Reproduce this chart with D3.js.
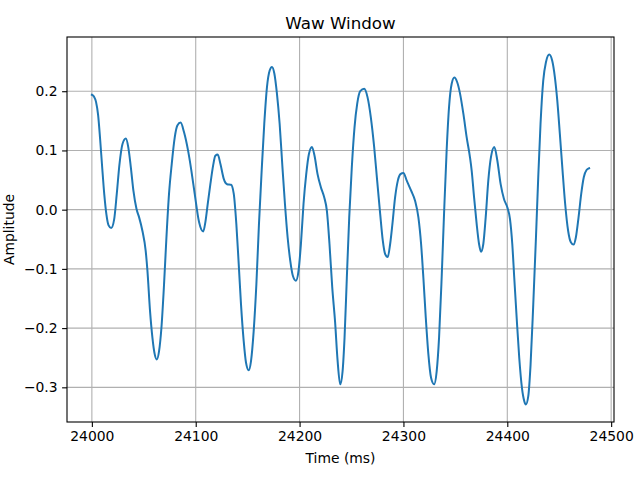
<!DOCTYPE html>
<html>
<head>
<meta charset="utf-8">
<script src="https://cdn.jsdelivr.net/npm/d3@7"></script>
<style>
  body { margin: 0; background: #fff; }
  svg { font-family: "DejaVu Sans", sans-serif; }
</style>
</head>
<body>
<div id="chart"></div>
<script>
// time (ms) and amplitude
var timeMs = [
  24000, 24002, 24004, 24006, 24008, 24010, 24012, 24014, 24016, 24018.6, 24021.5, 24024,
  24026.6, 24029.5, 24032.7, 24035, 24037.5, 24040, 24043, 24045.5, 24048.7, 24051.8,
  24053.5, 24056, 24058.3, 24060.5, 24062.5, 24064.7, 24067, 24069.5, 24071.8, 24074.3,
  24076.9, 24079.8, 24082.3, 24085.5, 24088.7, 24092.6, 24095.8, 24099, 24103.2, 24107.2,
  24109.3, 24111.6, 24114.1, 24116.7, 24118.9, 24121.2, 24123.8, 24127, 24130.2, 24134,
  24136.6, 24139.1, 24141.4, 24143.6, 24146.2, 24148.4, 24151, 24153.2, 24155.8, 24158.4,
  24160.9, 24163.5, 24166, 24168.6, 24171.2, 24173.4, 24175.7, 24178.2, 24180.8, 24183.3,
  24185.9, 24188.5, 24191, 24193.6, 24196.5, 24199, 24201.3, 24203.8, 24206.4, 24209,
  24211.9, 24214.4, 24217.3, 24220.5, 24223.7, 24226.3, 24228.8, 24231.4, 24234.2, 24236.6,
  24239.1, 24241.4, 24243.3, 24245.5, 24247.8, 24250.3, 24252.9, 24255.5, 24258.4, 24262.2,
  24265.4, 24268.6, 24271.8, 24274.7, 24277.6, 24280.1, 24282.4, 24284.9, 24287.2, 24289.4,
  24292, 24294.6, 24297.1, 24300, 24303.2, 24307.4, 24311.2, 24314.4, 24317, 24319.2,
  24321.5, 24324, 24326.6, 24329.5, 24332, 24334.3, 24336.8, 24339.1, 24341.6, 24343.9,
  24346.5, 24349, 24351.6, 24354.5, 24357.7, 24360.9, 24364.1, 24365.7, 24368, 24370.5,
  24372.8, 24374.7, 24376.9, 24379.2, 24381.7, 24384.3, 24387.5, 24390.4, 24393.6, 24396.8,
  24400, 24402.6, 24404.8, 24406.7, 24409, 24411.5, 24414.1, 24416.3, 24417.9, 24420.2,
  24422.4, 24425, 24427.6, 24429.8, 24432, 24434.6, 24437.2, 24440.4, 24443.2, 24445.8,
  24448.1, 24450.6, 24453.2, 24455.7, 24458.6, 24461.2, 24463.8, 24466, 24468.6, 24471.2,
  24473.7, 24476.3, 24478.8
];
var amplitude = [
  0.194, 0.191, 0.182, 0.160, 0.118, 0.070, 0.025, -0.008, -0.026, -0.031, -0.016, 0.027,
  0.077, 0.111, 0.120, 0.106, 0.072, 0.032, 0.001, -0.013, -0.036, -0.069,
  -0.103, -0.171, -0.216, -0.244, -0.253, -0.239, -0.199, -0.126, -0.047, 0.027,
  0.077, 0.122, 0.142, 0.147, 0.131, 0.100, 0.066, 0.027, -0.021, -0.037,
  -0.021, 0.010, 0.043, 0.074, 0.091, 0.093, 0.077, 0.052, 0.043, 0.042,
  0.027, -0.024, -0.092, -0.160, -0.222, -0.258, -0.271, -0.256, -0.205, -0.126,
  -0.024, 0.066, 0.145, 0.207, 0.235, 0.241, 0.230, 0.196, 0.145, 0.077,
  0.010, -0.047, -0.086, -0.112, -0.120, -0.103, -0.058, 0.010, 0.060, 0.094,
  0.106, 0.091, 0.060, 0.038, 0.021, -0.002, -0.058, -0.130, -0.190, -0.255,
  -0.295, -0.273, -0.216, -0.115, -0.013, 0.072, 0.139, 0.179, 0.200, 0.204,
  0.190, 0.156, 0.106, 0.049, -0.007, -0.052, -0.075, -0.080, -0.058, -0.024,
  0.021, 0.049, 0.060, 0.062, 0.049, 0.032, 0.015, -0.013, -0.058, -0.115,
  -0.182, -0.244, -0.284, -0.295, -0.273, -0.216, -0.115, -0.007, 0.100, 0.173,
  0.213, 0.223, 0.216, 0.196, 0.162, 0.122, 0.088, 0.066, 0.021, -0.024,
  -0.058, -0.071, -0.058, -0.013, 0.049, 0.089, 0.106, 0.083, 0.043, 0.018,
  0.004, -0.016, -0.058, -0.115, -0.182, -0.250, -0.301, -0.323, -0.329, -0.315,
  -0.262, -0.160, -0.047, 0.055, 0.145, 0.218, 0.249, 0.262, 0.252, 0.224,
  0.185, 0.128, 0.066, 0.010, -0.036, -0.055, -0.059, -0.047, -0.013, 0.027,
  0.055, 0.067, 0.070
];
var xTicks = [24000, 24100, 24200, 24300, 24400, 24500];
var yTicks = [-0.3, -0.2, -0.1, 0.0, 0.1, 0.2];

var W = 640, H = 480;
var margin = { top: 37, right: 26, bottom: 58, left: 67 };
var iw = W - margin.left - margin.right;
var ih = H - margin.top - margin.bottom;

var points = timeMs.map(function(t, i) { return { t: t, a: amplitude[i] }; });

var xExt = d3.extent(timeMs), yExt = d3.extent(amplitude);
var xPad = (xExt[1] - xExt[0]) * 0.05, yPad = (yExt[1] - yExt[0]) * 0.05;

var x = d3.scaleLinear().domain([xExt[0] - xPad, xExt[1] + xPad]).range([0, iw]);
var y = d3.scaleLinear().domain([yExt[0] - yPad, yExt[1] + yPad]).range([ih, 0]);

var svg = d3.select('#chart').append('svg')
  .attr('width', W).attr('height', H);

var g = svg.append('g')
  .attr('transform', 'translate(' + margin.left + ',' + margin.top + ')');

// grid
g.append('g').selectAll('line')
  .data(xTicks).enter().append('line')
  .attr('x1', function(d) { return x(d); }).attr('x2', function(d) { return x(d); })
  .attr('y1', 0).attr('y2', ih)
  .attr('stroke', '#b0b0b0').attr('stroke-width', 1.1);
g.append('g').selectAll('line')
  .data(yTicks).enter().append('line')
  .attr('y1', function(d) { return y(d); }).attr('y2', function(d) { return y(d); })
  .attr('x1', 0).attr('x2', iw)
  .attr('stroke', '#b0b0b0').attr('stroke-width', 1.1);

// the wave
var line = d3.line()
  .x(function(d) { return x(d.t); })
  .y(function(d) { return y(d.a); })
  .curve(d3.curveMonotoneX);

g.append('path')
  .datum(points)
  .attr('d', line)
  .attr('fill', 'none')
  .attr('stroke', '#1f77b4')
  .attr('stroke-width', 2)
  .attr('stroke-linejoin', 'round')
  .attr('stroke-linecap', 'square');

// axes
var fmtY = function(d) { return d3.format('.1f')(d).replace('-', '\u2212'); };

var xAxis = g.append('g')
  .attr('transform', 'translate(0,' + ih + ')')
  .call(d3.axisBottom(x).tickValues(xTicks).tickSize(4.9).tickPadding(4.5).tickFormat(d3.format('d')));
var yAxis = g.append('g')
  .call(d3.axisLeft(y).tickValues(yTicks).tickSize(4.9).tickPadding(4.5).tickFormat(fmtY));

[xAxis, yAxis].forEach(function(a) {
  a.select('.domain').remove();
  a.selectAll('line').attr('stroke', '#000').attr('stroke-width', 1.1);
  a.selectAll('text').attr('font-size', '13.9px').attr('fill', '#000')
    .attr('font-family', '"DejaVu Sans", sans-serif');
});

// frame
g.append('rect')
  .attr('width', iw).attr('height', ih)
  .attr('fill', 'none').attr('stroke', '#000').attr('stroke-width', 1.1);

// labels
svg.append('text')
  .attr('x', margin.left + iw / 2).attr('y', 29)
  .attr('text-anchor', 'middle').attr('font-size', '16.7px')
  .text('Waw Window');

svg.append('text')
  .attr('x', margin.left + iw / 2).attr('y', 463)
  .attr('text-anchor', 'middle').attr('font-size', '13.9px')
  .text('Time (ms)');

svg.append('text')
  .attr('transform', 'translate(14,' + (margin.top + ih / 2) + ') rotate(-90)')
  .attr('text-anchor', 'middle').attr('font-size', '13.9px')
  .text('Amplitude');
</script>
</body>
</html>
